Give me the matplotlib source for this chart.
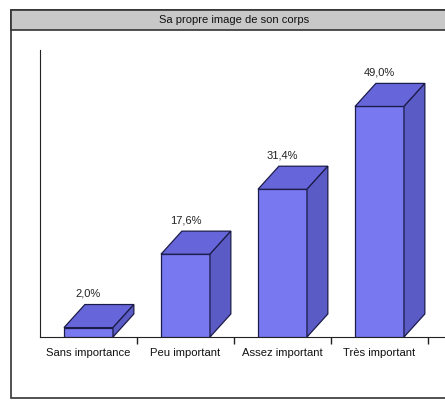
import matplotlib
matplotlib.use('Agg')
import matplotlib.pyplot as plt
from matplotlib.patches import Polygon, Rectangle

# données
categories = ['Sans importance', 'Peu important', 'Assez important', 'Très important']
valeurs = [2.0, 17.6, 31.4, 49.0]
etiquettes = ['2,0%', '17,6%', '31,4%', '49,0%']
titre = 'Sa propre image de son corps'

plt.rcParams['font.family'] = ['Liberation Sans', 'DejaVu Sans']

face_avant = '#7878f0'
face_haut = '#6666da'
face_cote = '#5b5bc6'
bord = '#1c1c4a'

fig = plt.figure(figsize=(4.45, 4.01), dpi=100)
fig.patch.set_facecolor('white')

# cadre + bandeau de titre (derrière les axes)
W, H = 445.0, 401.0
fig.add_artist(Rectangle((11 / W, 1 - 398 / H), 1.0, (398 - 10) / H, transform=fig.transFigure,
                         facecolor='white', edgecolor='#333333', linewidth=1.2, zorder=-2))
fig.add_artist(Rectangle((11 / W, 1 - 30 / H), 1.0, 20 / H, transform=fig.transFigure,
                         facecolor='#c8c8c8', edgecolor='#333333', linewidth=1.2, zorder=-1))
fig.text(234 / W, 1 - 20 / H, titre, ha='center', va='center', fontsize=8.0, color='#111111')

ax = fig.add_axes([40 / W, 1 - 337 / H, 405 / W, (337 - 50) / H])
ax.set_facecolor('none')

x = list(range(len(categories)))
largeur = 0.505
prof_x = 0.215  # profondeur (unités catégorie)
prof_y = 4.9    # profondeur (unités %)

ax.bar(x, valeurs, width=largeur, color=face_avant, edgecolor=bord, linewidth=0.9, zorder=3)
for xi, v, lab in zip(x, valeurs, etiquettes):
    g, d = xi - largeur / 2, xi + largeur / 2
    haut = Polygon([(g, v), (d, v), (d + prof_x, v + prof_y), (g + prof_x, v + prof_y)],
                   closed=True, facecolor=face_haut, edgecolor=bord, linewidth=0.9, zorder=3)
    cote = Polygon([(d, 0), (d + prof_x, prof_y), (d + prof_x, v + prof_y), (d, v)],
                   closed=True, facecolor=face_cote, edgecolor=bord, linewidth=0.9, zorder=3)
    ax.add_patch(haut)
    ax.add_patch(cote)
    ax.text(xi, v + prof_y + 1.2, lab, ha='center', va='bottom', fontsize=8.0, color='#222222')

ax.set_xlim(-0.5, -0.5 + 405 / 97)
ax.set_ylim(0, 61)

for s in ['top', 'right']:
    ax.spines[s].set_visible(False)
ax.spines['left'].set_color('#222222')
ax.spines['bottom'].set_color('#222222')
ax.set_yticks([])

ax.set_xticks([i + 0.5 for i in x])
ax.set_xticklabels([])
ax.tick_params(axis='x', which='major', length=5, width=1, color='#222222', direction='out')
ax.set_xticks(x, minor=True)
ax.set_xticklabels(categories, minor=True, fontsize=8.1, color='#111111')
ax.tick_params(axis='x', which='minor', length=0, pad=8)

fig.savefig('out.png', dpi=100)
